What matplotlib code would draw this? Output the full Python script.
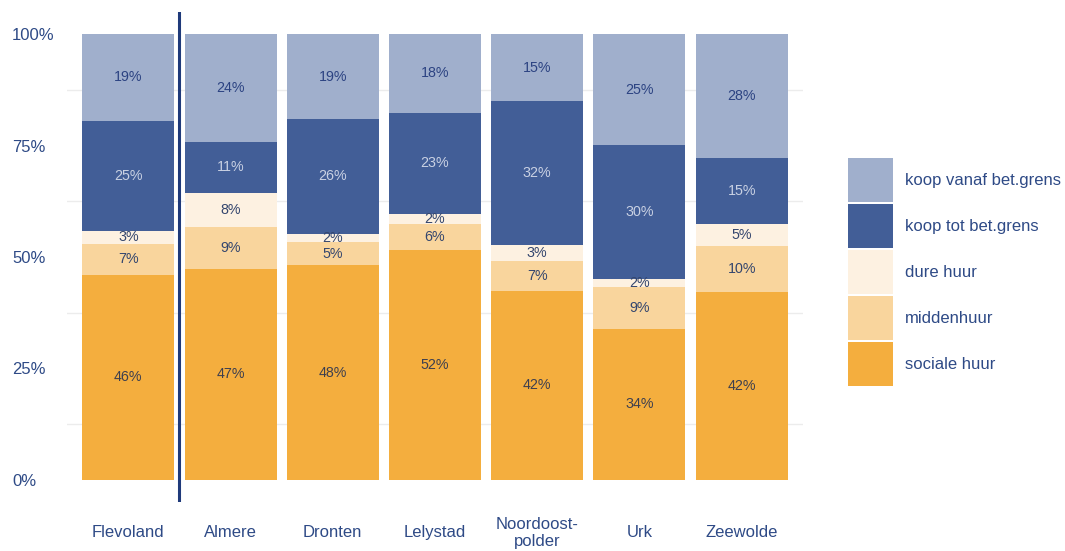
import matplotlib.pyplot as plt
from matplotlib.patches import Patch

plt.rcParams['font.family'] = ['Liberation Sans', 'DejaVu Sans']

# Housing stock by tenure per municipality (share in %)
regions = ["Flevoland", "Almere", "Dronten", "Lelystad", "Noordoost-\npolder", "Urk", "Zeewolde"]
sociale_huur = [46.0, 47.3, 48.1, 51.6, 42.4, 33.8, 42.2]
middenhuur = [6.9, 9.4, 5.3, 5.8, 6.8, 9.4, 10.3]
dure_huur = [3.0, 7.7, 1.8, 2.2, 3.4, 1.8, 4.9]
koop_tot = [24.7, 11.4, 25.8, 22.8, 32.4, 30.2, 14.9]
koop_vanaf = [19.4, 24.2, 19.0, 17.6, 15.0, 24.8, 27.7]

series = [
    ("sociale huur", sociale_huur, "#f4ae3e", "#3d3f4f"),
    ("middenhuur", middenhuur, "#f9d59d", "#34466e"),
    ("dure huur", dure_huur, "#fdf1e1", "#34466e"),
    ("koop tot bet.grens", koop_tot, "#425e97", "#c9d1e3"),
    ("koop vanaf bet.grens", koop_vanaf, "#a0afcc", "#2c4382"),
]

navy = "#2e4a86"

fig = plt.figure(figsize=(10.65, 5.51), dpi=100)
ax = fig.add_axes([67 / 1065, 49 / 551, 736 / 1065, 490 / 551])

x = list(range(len(regions)))
bottom = [0.0] * len(regions)
handles = []
for name, vals, color, txt_color in series:
    bars = ax.bar(x, vals, width=0.9, bottom=bottom, color=color, zorder=2)
    ax.bar_label(bars, labels=[f"{v:.0f}%" for v in vals], label_type="center",
                 color=txt_color, fontsize=10.3)
    bottom = [b + v for b, v in zip(bottom, vals)]
    handles.append(Patch(facecolor=color, label=name))

# separator between the province and its municipalities
ax.axvline(0.5, color="#1f3a7a", lw=2.2, zorder=3)

ax.set_xlim(-0.6, 6.6)
ax.set_ylim(-5, 105)
ax.set_yticks([0, 25, 50, 75, 100])
ax.set_yticklabels(["0%", "25%", "50%", "75%", "100%"])
ax.set_yticks([12.5, 37.5, 62.5, 87.5], minor=True)
ax.grid(axis="y", which="minor", color="#ececec", lw=1, zorder=0)
ax.set_xticks(x)
ax.set_xticklabels(regions, linespacing=1.1)

ax.tick_params(axis="y", which="both", length=0, pad=39.6, labelsize=12, labelcolor=navy)
ax.tick_params(axis="x", length=0, pad=22.3, labelsize=12, labelcolor=navy)
for lab in ax.get_yticklabels():
    lab.set_horizontalalignment("left")
for lab in ax.get_xticklabels():
    lab.set_verticalalignment("center")

for spine in ax.spines.values():
    spine.set_visible(False)

leg = fig.legend(handles=handles[::-1], loc="upper left", bbox_to_anchor=(848 / 1065, 1 - 158 / 551),
                 frameon=False, fontsize=12, handlelength=2.7, handleheight=3.685,
                 labelspacing=0.12, handletextpad=0.72, borderpad=0, borderaxespad=0)
for t in leg.get_texts():
    t.set_color(navy)

fig.savefig("out.png", dpi=100)
